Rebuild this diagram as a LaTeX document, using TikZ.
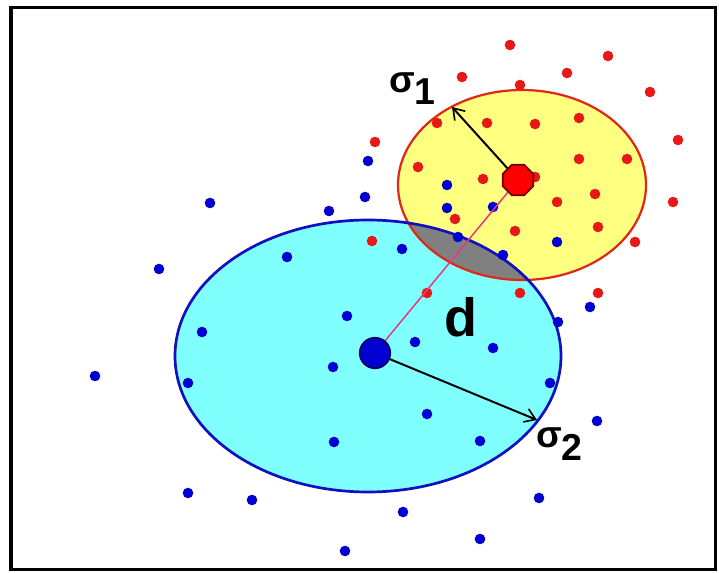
\documentclass[tikz,border=0pt]{standalone}
\usepackage{fontspec}
\setmainfont{Liberation Sans}
\usetikzlibrary{arrows.meta,shapes.geometric}
\definecolor{cyanfill}{HTML}{80FFFF}
\definecolor{yellowfill}{HTML}{FFFF80}
\definecolor{blueline}{HTML}{1010C0}
\definecolor{redline}{HTML}{E02818}
\definecolor{reddot}{HTML}{E81818}
\definecolor{bluedot}{HTML}{0000D0}
\definecolor{overlap}{HTML}{808080}
\definecolor{dcol}{HTML}{E03C80}
\definecolor{darkred}{HTML}{700000}
\definecolor{darkblue}{HTML}{000060}
\tikzset{
  rdot/.style={fill=reddot},
  bdot/.style={fill=bluedot},
  sigarrow/.style={draw=black, line width=1.7pt, -{Straight Barb[length=9pt,width=12pt,line width=1.4pt]}},
  dline/.style={draw=dcol, line width=1.3pt},
  lab/.style={inner sep=0pt, anchor=base west},
}
\begin{document}
\begin{tikzpicture}[x=0.03cm,y=-0.03cm]
\useasboundingbox (0,0) rectangle (719,573);
\fill[white] (0,0) rectangle (719,573);
\draw[line width=2.6pt] (11,7.5) rectangle (715.5,569.5);
% ellipses
\fill[yellowfill] (522,185) ellipse [x radius=124, y radius=95];
\fill[cyanfill] (368,356) ellipse [x radius=193, y radius=136];
\begin{scope}
  \clip (522,185) ellipse [x radius=124, y radius=95];
  \fill[overlap] (368,356) ellipse [x radius=193, y radius=136];
\end{scope}
\draw[redline, line width=1.9pt] (522,185) ellipse [x radius=124, y radius=95];
\draw[blueline, line width=2.3pt] (368,356) ellipse [x radius=193, y radius=136];
% red dots
\foreach \p in {(510,45),(608,56),(567,73),(462,77),(520,85),(650,92),(375,142),(437,123),(487,123),(535,124),(579,118),(678,140),(579,159),(627,159),(418,167),(483,179),(535,177),(595,194),(557,202),(673,202),(455,219),(372,241),(515,231),(598,227),(635,242),(427,293),(520,293),(598,293)}
  \fill[rdot] \p circle [radius=5.3];
% blue dots
\foreach \p in {(210,203),(329,211),(159,269),(287,257),(202,332),(347,316),(95,376),(188,383),(333,367),(334,442),(188,493),(252,500),(345,551),(368,161),(365,197),(447,185),(447,208),(493,207),(402,249),(458,237),(503,255),(557,242),(590,307),(415,342),(493,348),(558,322),(550,383),(597,421),(427,414),(480,441),(539,498),(403,512),(480,539)}
  \fill[bdot] \p circle [radius=5.3];
% centres and arrows
\coordinate (rcc) at (518,180);
\coordinate (bcc) at (375,353);
\coordinate (s1end) at (452,107);
\coordinate (s2end) at (537,420);
\draw[dline] (bcc) -- (rcc);
\node[regular polygon, regular polygon sides=8, minimum size=28pt, inner sep=0pt, fill=red, draw=darkred, line width=1.5pt] (rc) at (rcc) {};
\node[circle, minimum size=26pt, inner sep=0pt, fill=bluedot, draw=darkblue, line width=1.5pt] (bc) at (bcc) {};
\draw[sigarrow] (rc) -- (s1end);
\draw[sigarrow] (bc) -- (s2end);
% labels
\node[lab, font=\bfseries\fontsize{32}{32}\selectfont] (s1) at (389,93) {σ\raisebox{-10pt}{1}};
\node[lab, font=\bfseries\fontsize{32}{32}\selectfont] (s2) at (536,448) {σ\raisebox{-11pt}{2}};
\node[lab, font=\bfseries\fontsize{46}{46}\selectfont] (d) at (444,337) {d};
\end{tikzpicture}
\end{document}
